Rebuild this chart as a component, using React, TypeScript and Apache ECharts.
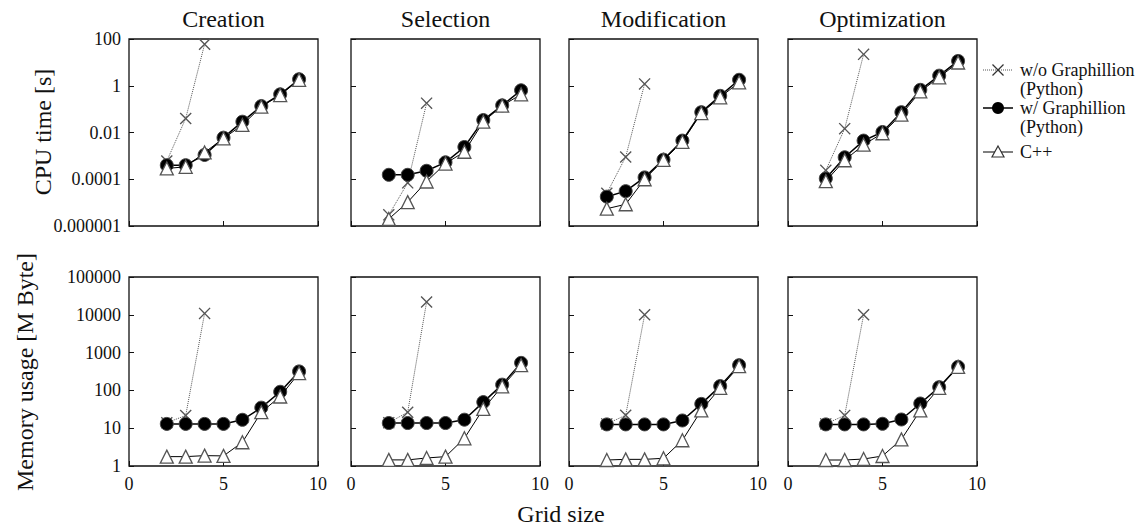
import React, { useEffect, useRef } from "react";
import * as echarts from "echarts";

// ---------- data ----------
const gridSize = [2, 3, 4, 5, 6, 7, 8, 9];
const gridSizeWithout = [2, 3, 4];
const taskNames = ["Creation", "Selection", "Modification", "Optimization"];
const seriesNames = ["w/o Graphillion (Python)", "w/ Graphillion (Python)", "C++"];

const cpuTickValues = [-6, -4, -2, 0, 2];
const cpuTickLabels = ["0.000001", "0.0001", "0.01", "1", "100"];
const memTickValues = [0, 1, 2, 3, 4, 5];
const memTickLabels = ["1", "10", "100", "1000", "10000", "100000"];
const xTickLabels = ["0", "5", "10"];

// CPU time [s]
const creationCpuWithout = [6e-4, 0.04, 60];
const creationCpuWith = [4e-4, 4e-4, 1.1e-3, 6e-3, 0.029, 0.135, 0.43, 1.9];
const creationCpuCpp = [2.9e-4, 3.4e-4, 1.4e-3, 5.6e-3, 0.021, 0.127, 0.4, 1.8];

const selectionCpuWithout = [3e-6, 7e-5, 0.18];
const selectionCpuWith = [1.55e-4, 1.55e-4, 2.3e-4, 5.3e-4, 2.4e-3, 0.034, 0.145, 0.64];
const selectionCpuCpp = [2e-6, 1.05e-5, 8e-5, 4.7e-4, 1.5e-3, 0.029, 0.14, 0.43];

const modificationCpuWithout = [2.5e-5, 9e-4, 1.2];
const modificationCpuWith = [1.8e-5, 3.1e-5, 1.2e-4, 6.9e-4, 4.5e-3, 0.074, 0.37, 1.8];
const modificationCpuCpp = [5.5e-6, 8.5e-6, 1e-4, 6.7e-4, 4e-3, 0.068, 0.32, 1.4];

const optimizationCpuWithout = [2.4e-4, 0.0146, 22];
const optimizationCpuWith = [1.08e-4, 8.7e-4, 4.5e-3, 0.0105, 0.074, 0.67, 2.7, 11.5];
const optimizationCpuCpp = [8.3e-5, 6.5e-4, 3e-3, 9.3e-3, 0.058, 0.57, 2.3, 9.9];

// Memory usage [M Byte]
const creationMemWithout = [14, 21.6, 10900];
const creationMemWith = [13, 13, 13, 13, 16.7, 35, 92, 318];
const creationMemCpp = [1.77, 1.77, 1.88, 1.85, 4.25, 26.5, 69, 288];

const selectionMemWithout = [14, 26.5, 21800];
const selectionMemWith = [13.7, 13.7, 13.7, 13.7, 16.8, 49, 142, 535];
const selectionMemCpp = [1.45, 1.45, 1.63, 1.77, 5.4, 32.5, 128, 465];

const modificationMemWithout = [13, 22, 10000];
const modificationMemWith = [12.6, 12.6, 12.6, 12.6, 16, 44, 130, 465];
const modificationMemCpp = [1.44, 1.5, 1.5, 1.6, 4.8, 29.5, 117, 437];

const optimizationMemWithout = [13, 21.8, 10000];
const optimizationMemWith = [12.6, 12.6, 12.6, 13.1, 17, 45, 122, 420];
const optimizationMemCpp = [1.44, 1.44, 1.53, 1.84, 5.06, 29.5, 117, 420];

const cpuPanels = [
  [creationCpuWithout, creationCpuWith, creationCpuCpp],
  [selectionCpuWithout, selectionCpuWith, selectionCpuCpp],
  [modificationCpuWithout, modificationCpuWith, modificationCpuCpp],
  [optimizationCpuWithout, optimizationCpuWith, optimizationCpuCpp],
];
const memPanels = [
  [creationMemWithout, creationMemWith, creationMemCpp],
  [selectionMemWithout, selectionMemWith, selectionMemCpp],
  [modificationMemWithout, modificationMemWith, modificationMemCpp],
  [optimizationMemWithout, optimizationMemWith, optimizationMemCpp],
];

// ---------- layout ----------
const FONT = "Liberation Serif";
const COL_LEFT = [129, 351, 569, 788];
const COL_WIDTH = 189;
const ROW_TOP = [39, 277];
const ROW_HEIGHT = [187, 189];
const CROSS =
  "path://M0,0.8L0.8,0L5,4.2L9.2,0L10,0.8L5.8,5L10,9.2L9.2,10L5,5.8L0.8,10L0,9.2L4.2,5Z";

function buildOption() {
  const grid: any[] = [];
  const xAxis: any[] = [];
  const yAxis: any[] = [];
  const series: any[] = [];
  const graphic: any[] = [];

  for (let r = 0; r < 2; r++) {
    for (let c = 0; c < 4; c++) {
      const idx = r * 4 + c;
      grid.push({
        left: COL_LEFT[c],
        top: ROW_TOP[r],
        width: COL_WIDTH,
        height: ROW_HEIGHT[r],
        show: true,
        borderColor: "#111",
        borderWidth: 1.3,
        backgroundColor: "transparent",
        containLabel: false,
      });
      xAxis.push({
        type: "value",
        gridIndex: idx,
        position: "bottom",
        min: 0,
        max: 10,
        interval: 5,
        axisLine: { show: false, onZero: false },
        axisTick: { show: true, inside: true, length: 5, lineStyle: { color: "#111", width: 1 } },
        splitLine: { show: false },
        axisLabel: {
          show: r === 1,
          margin: 9,
          fontSize: 18,
          fontFamily: FONT,
          color: "#111",
          formatter: (v: number) => xTickLabels[Math.round(v / 5)] ?? "",
        },
      });
      const cpu = r === 0;
      yAxis.push({
        type: "value",
        gridIndex: idx,
        position: "left",
        min: cpu ? cpuTickValues[0] : memTickValues[0],
        max: cpu ? cpuTickValues[cpuTickValues.length - 1] : memTickValues[memTickValues.length - 1],
        interval: cpu ? 2 : 1,
        axisLine: { show: false, onZero: false },
        axisTick: { show: true, inside: true, length: 5, lineStyle: { color: "#111", width: 1 } },
        splitLine: { show: false },
        axisLabel: {
          show: c === 0,
          margin: 8,
          fontSize: 18,
          fontFamily: FONT,
          color: "#111",
          formatter: (v: number) => {
            if (cpu) {
              const i = cpuTickValues.indexOf(Math.round(v));
              return i >= 0 ? cpuTickLabels[i] : "";
            }
            const i = memTickValues.indexOf(Math.round(v));
            return i >= 0 ? memTickLabels[i] : "";
          },
        },
      });

      const panel = cpu ? cpuPanels[c] : memPanels[c];
      const toPts = (xs: number[], ys: number[]) => xs.map((x, i) => [x, Math.log10(ys[i])]);

      series.push({
        name: seriesNames[0],
        type: "line",
        xAxisIndex: idx,
        yAxisIndex: idx,
        data: toPts(gridSizeWithout, panel[0]),
        symbol: CROSS,
        symbolSize: 12,
        itemStyle: { color: "#555" },
        lineStyle: { type: "dotted", width: 1, color: "#555" },
        z: 2,
        silent: true,
      });
      series.push({
        name: seriesNames[1],
        type: "line",
        xAxisIndex: idx,
        yAxisIndex: idx,
        data: toPts(gridSize, panel[1]),
        symbol: "circle",
        symbolSize: 13,
        itemStyle: { color: "#000", borderColor: "#444", borderWidth: 1 },
        lineStyle: { type: "solid", width: 1.5, color: "#000" },
        z: 3,
        silent: true,
      });
      series.push({
        name: seriesNames[2],
        type: "line",
        xAxisIndex: idx,
        yAxisIndex: idx,
        data: toPts(gridSize, panel[2]),
        symbol: "triangle",
        symbolSize: 13,
        itemStyle: { color: "#fff", borderColor: "#555", borderWidth: 1.3 },
        lineStyle: { type: "solid", width: 1, color: "#000" },
        z: 4,
        silent: true,
      });
    }
  }

  const baseText = { fontFamily: FONT, fill: "#111" };

  // titles
  taskNames.forEach((t, c) => {
    graphic.push({
      type: "text",
      x: COL_LEFT[c] + COL_WIDTH / 2,
      y: 19,
      style: { ...baseText, text: t, fontSize: 24, textAlign: "center", textVerticalAlign: "middle" },
    });
  });

  // axis names
  graphic.push({
    type: "text",
    x: 43,
    y: 132,
    rotation: Math.PI / 2,
    style: { ...baseText, text: "CPU time [s]", fontSize: 24, textAlign: "center", textVerticalAlign: "middle" },
  });
  graphic.push({
    type: "text",
    x: 25,
    y: 372,
    rotation: Math.PI / 2,
    style: { ...baseText, text: "Memory usage [M Byte]", fontSize: 24, textAlign: "center", textVerticalAlign: "middle" },
  });
  graphic.push({
    type: "text",
    x: 561,
    y: 514,
    style: { ...baseText, text: "Grid size", fontSize: 24, textAlign: "center", textVerticalAlign: "middle" },
  });

  // legend
  const lx0 = 983;
  const lx1 = 1013;
  const lxc = 998;
  const ltx = 1020;
  const legendRows = [70, 108, 152];
  const textStyle = { ...baseText, fontSize: 18, textAlign: "left", textVerticalAlign: "middle" };
  // item 1
  graphic.push({
    type: "line",
    shape: { x1: lx0, y1: legendRows[0], x2: lx1, y2: legendRows[0] },
    style: { stroke: "#555", lineWidth: 1, lineDash: [1, 1] },
  });
  graphic.push({
    type: "line",
    shape: { x1: lxc - 5.5, y1: legendRows[0] - 5.5, x2: lxc + 5.5, y2: legendRows[0] + 5.5 },
    style: { stroke: "#333", lineWidth: 1.3 },
  });
  graphic.push({
    type: "line",
    shape: { x1: lxc - 5.5, y1: legendRows[0] + 5.5, x2: lxc + 5.5, y2: legendRows[0] - 5.5 },
    style: { stroke: "#333", lineWidth: 1.3 },
  });
  graphic.push({ type: "text", x: ltx, y: legendRows[0], style: { ...textStyle, text: "w/o Graphillion" } });
  graphic.push({ type: "text", x: ltx, y: legendRows[0] + 19, style: { ...textStyle, text: "(Python)" } });
  // item 2
  graphic.push({
    type: "line",
    shape: { x1: lx0, y1: legendRows[1], x2: lx1, y2: legendRows[1] },
    style: { stroke: "#000", lineWidth: 1.5 },
  });
  graphic.push({ type: "circle", shape: { cx: lxc, cy: legendRows[1], r: 6 }, style: { fill: "#000" } });
  graphic.push({ type: "text", x: ltx, y: legendRows[1], style: { ...textStyle, text: "w/ Graphillion" } });
  graphic.push({ type: "text", x: ltx, y: legendRows[1] + 19, style: { ...textStyle, text: "(Python)" } });
  // item 3
  graphic.push({
    type: "line",
    shape: { x1: lx0, y1: legendRows[2], x2: lx1, y2: legendRows[2] },
    style: { stroke: "#000", lineWidth: 1 },
  });
  graphic.push({
    type: "polygon",
    shape: { points: [[lxc, legendRows[2] - 6], [lxc + 6, legendRows[2] + 5], [lxc - 6, legendRows[2] + 5]] },
    style: { fill: "#fff", stroke: "#333", lineWidth: 1.2 },
  });
  graphic.push({ type: "text", x: ltx, y: legendRows[2], style: { ...textStyle, text: "C++" } });

  return {
    animation: false,
    backgroundColor: "#fff",
    textStyle: { fontFamily: FONT },
    grid,
    xAxis,
    yAxis,
    series,
    graphic,
  };
}

export default function App() {
  const ref = useRef<HTMLDivElement>(null);
  useEffect(() => {
    if (!ref.current) return;
    const chart = echarts.init(ref.current, undefined, { renderer: "svg" });
    chart.setOption(buildOption() as any);
    return () => chart.dispose();
  }, []);
  return (
    <div
      ref={ref}
      style={{ position: "fixed", left: 0, top: 0, width: 1144, height: 526, background: "#fff" }}
    />
  );
}
